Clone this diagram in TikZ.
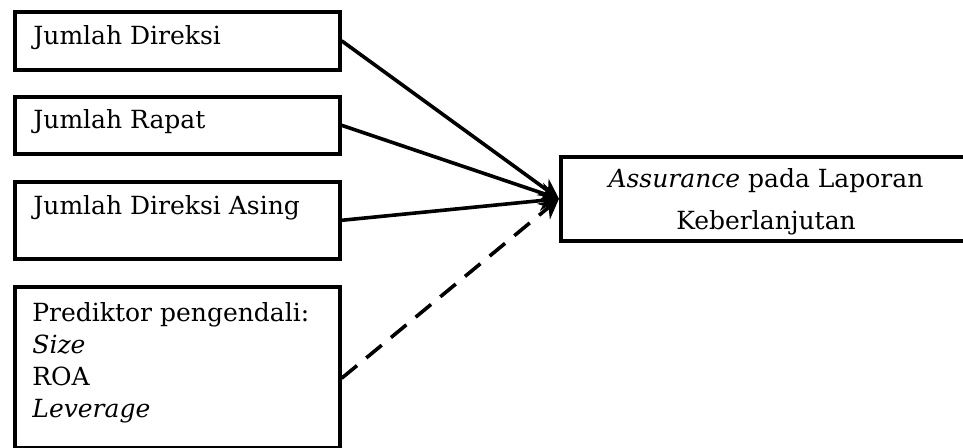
\documentclass[tikz,border=0pt]{standalone}
\usepackage{fontspec}
\setmainfont{DejaVu Serif}
\usepackage{tikz}
\usetikzlibrary{calc,arrows.meta}

\tikzstyle{varbox} = [
    draw,
    line width=1.8pt,
    rectangle,
    anchor=north west,
    inner sep=0pt
    ]
\tikzstyle{boxtext} = [
    inner sep=0pt,
    font=\fontsize{12.5}{16}\selectfont
    ]
\tikzstyle{link} = [
    line width=1.8pt,
    -{Stealth[length=10pt,width=10pt]}
    ]

\begin{document}
\begin{tikzpicture}[x=0.5pt,y=-0.5pt]
\useasboundingbox (0,0) rectangle (963,448);

% independent variables
\node[varbox, minimum width=162.5pt, minimum height=29pt] (dir) at (13,10) {};
\node[varbox, minimum width=162.5pt, minimum height=28.5pt] (rapat) at (13,95) {};
\node[varbox, minimum width=162.5pt, minimum height=38.5pt] (asing) at (13,180) {};
\node[varbox, minimum width=162.5pt, minimum height=80.5pt] (pred) at (13,285) {};

\node[boxtext, anchor=base west] (dirlbl) at (33,45) {Jumlah Direksi};
\node[boxtext, anchor=base west] (rapatlbl) at (33,129) {Jumlah Rapat};
\node[boxtext, anchor=base west] (asinglbl) at (33,215) {Jumlah Direksi Asing};
\node[boxtext, anchor=north west, align=left] (predlbl) at (32,302)
    {Prediktor pengendali:\\ \textit{Size}\\ ROA\\ \textit{Leverage}};

% dependent variable
\node[varbox, minimum width=203.5pt, minimum height=42pt] (tgt) at (559,155) {};
\node[boxtext, anchor=north, align=center, font=\fontsize{12.5}{21}\selectfont] (tgtlbl) at (766,168)
    {\textit{Assurance} pada Laporan\\ Keberlanjutan};

\draw[link] (dir.east) -- (tgt.west);
\draw[link] (rapat.east) -- (tgt.west);
\draw[link] (asing.east) -- (tgt.west);
\draw[link, dash pattern=on 10pt off 6pt] ($(pred.east)+(0,11)$) -- (tgt.west);
\end{tikzpicture}
\end{document}
